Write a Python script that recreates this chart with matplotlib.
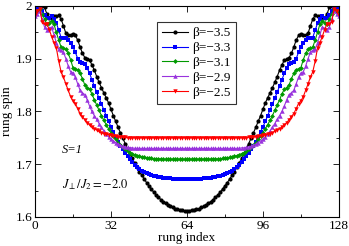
import matplotlib
matplotlib.use("Agg")
from matplotlib import pyplot as plt
from matplotlib.ticker import MultipleLocator, FuncFormatter
import numpy as np

plt.rcParams['font.family'] = ['Liberation Serif', 'DejaVu Serif']
plt.rcParams['mathtext.fontset'] = 'stix'

# rung spin for rungs 0..64 (curves are mirror symmetric around rung 64)
half_35 = [1.985, 1.990, 1.995, 1.999, 1.997, 1.985, 1.977, 1.978, 1.980, 1.981,
           1.982, 1.975, 1.962, 1.948, 1.945, 1.945, 1.946, 1.944, 1.935, 1.922,
           1.910, 1.902, 1.899, 1.897, 1.888, 1.878, 1.866, 1.855, 1.845, 1.835,
           1.826, 1.816, 1.804, 1.792, 1.781, 1.770, 1.759, 1.749, 1.739, 1.729,
           1.720, 1.711, 1.702, 1.694, 1.686, 1.679, 1.672, 1.665, 1.659, 1.653,
           1.647, 1.642, 1.637, 1.633, 1.629, 1.626, 1.623, 1.620, 1.618, 1.616,
           1.615, 1.614, 1.613, 1.612, 1.612]
half_33 = [1.990, 1.998, 1.999, 1.990, 1.982, 1.977, 1.978, 1.980, 1.975, 1.967,
           1.954, 1.940, 1.939, 1.939, 1.936, 1.930, 1.922, 1.912, 1.900, 1.893,
           1.891, 1.889, 1.882, 1.872, 1.860, 1.848, 1.836, 1.825, 1.814, 1.803,
           1.792, 1.781, 1.771, 1.761, 1.752, 1.743, 1.735, 1.728, 1.721, 1.715,
           1.709, 1.704, 1.699, 1.695, 1.691, 1.688, 1.685, 1.683, 1.681, 1.679,
           1.678, 1.677, 1.676, 1.675, 1.674, 1.674, 1.673, 1.673, 1.672, 1.672,
           1.672, 1.672, 1.672, 1.672, 1.672]
half_31 = [1.985, 1.990, 1.995, 1.985, 1.975, 1.965, 1.968, 1.972, 1.965, 1.950,
           1.935, 1.922, 1.920, 1.918, 1.910, 1.898, 1.883, 1.881, 1.879, 1.872,
           1.862, 1.850, 1.845, 1.842, 1.833, 1.822, 1.812, 1.802, 1.792, 1.783,
           1.775, 1.767, 1.760, 1.753, 1.747, 1.741, 1.736, 1.732, 1.728, 1.725,
           1.722, 1.720, 1.718, 1.716, 1.715, 1.714, 1.713, 1.712, 1.711, 1.711,
           1.710, 1.710, 1.710, 1.710, 1.709, 1.709, 1.709, 1.709, 1.709, 1.709,
           1.709, 1.709, 1.709, 1.709, 1.709]
half_29 = [1.980, 1.985, 1.990, 1.975, 1.960, 1.955, 1.958, 1.960, 1.945, 1.930,
           1.918, 1.916, 1.912, 1.900, 1.886, 1.875, 1.873, 1.865, 1.852, 1.840,
           1.835, 1.832, 1.822, 1.810, 1.800, 1.792, 1.785, 1.777, 1.770, 1.763,
           1.757, 1.752, 1.748, 1.744, 1.741, 1.738, 1.736, 1.734, 1.733, 1.732,
           1.731, 1.731, 1.730, 1.730, 1.730, 1.730, 1.730, 1.730, 1.730, 1.730,
           1.730, 1.730, 1.730, 1.730, 1.730, 1.730, 1.730, 1.730, 1.730, 1.730,
           1.730, 1.730, 1.730, 1.730, 1.730]
half_25 = [1.983, 1.990, 1.995, 1.970, 1.965, 1.966, 1.955, 1.942, 1.930, 1.920,
           1.895, 1.875, 1.865, 1.852, 1.840, 1.828, 1.820, 1.815, 1.805, 1.796,
           1.790, 1.784, 1.779, 1.774, 1.770, 1.767, 1.765, 1.762, 1.760, 1.758,
           1.757, 1.756, 1.755, 1.754, 1.753, 1.752, 1.752, 1.751, 1.751, 1.750,
           1.750, 1.750, 1.750, 1.750, 1.750, 1.750, 1.750, 1.750, 1.750, 1.750,
           1.750, 1.750, 1.750, 1.750, 1.750, 1.750, 1.750, 1.750, 1.750, 1.750,
           1.750, 1.750, 1.750, 1.750, 1.750]

rung = np.arange(0, 129)
labels = ["β=−3.5", "β=−3.3", "β=−3.1", "β=−2.9", "β=−2.5"]
halves = [half_35, half_33, half_31, half_29, half_25]
cores = ["black", "#0000ff", "#009900", "#9933dd", "#ff0000"]
marcas = ["o", "s", "D", "^", "v"]
tams = [3.0, 2.9, 2.5, 3.2, 3.2]

fig = plt.figure(figsize=(3.49, 2.46), dpi=100)
ax = fig.add_axes([0.1003, 0.118, 0.8707, 0.858])

for h, lab, c, m, s in zip(halves, labels, cores, marcas, tams):
    full = np.concatenate([h, h[-2::-1]])
    ax.plot(rung, full, color=c, marker=m, markersize=s, linewidth=0.8,
            markeredgewidth=0, label=lab)

ax.set_xlim(0, 128)
ax.set_ylim(1.6, 2.0)
ax.xaxis.set_major_locator(MultipleLocator(32))
ax.xaxis.set_minor_locator(MultipleLocator(16))
ax.yaxis.set_major_locator(MultipleLocator(0.1))
ax.yaxis.set_minor_locator(MultipleLocator(0.05))
ax.yaxis.set_major_formatter(FuncFormatter(lambda v, p: "%g" % round(v, 2)))
ax.tick_params(which='both', direction='in', top=True, right=True,
               labelsize=9.5, pad=2)
ax.tick_params(which='major', length=4, width=0.6)
ax.tick_params(which='minor', length=2, width=0.6)
for sp in ax.spines.values():
    sp.set_linewidth(0.8)

ax.set_xlabel("rung index", fontsize=9.5, labelpad=0)
ax.set_ylabel("rung spin", fontsize=9.5, labelpad=2)

ax.text(11.5, 1.722, "S=1", fontsize=9, style='italic')
ax.text(11.5, 1.655, r"$\mathit{J}_{\perp}/\mathit{J}_{2}\mathit{=-2.0}$", fontsize=9)

leg = ax.legend(loc='upper left', bbox_to_anchor=(0.40, 0.925), fontsize=9.5,
                frameon=True, fancybox=False, handlelength=2.0,
                handletextpad=0.3, borderpad=0.4, labelspacing=0.2,
                borderaxespad=0)
leg.get_frame().set_edgecolor("black")
leg.get_frame().set_linewidth(0.8)

fig.savefig("out.png", dpi=100)
